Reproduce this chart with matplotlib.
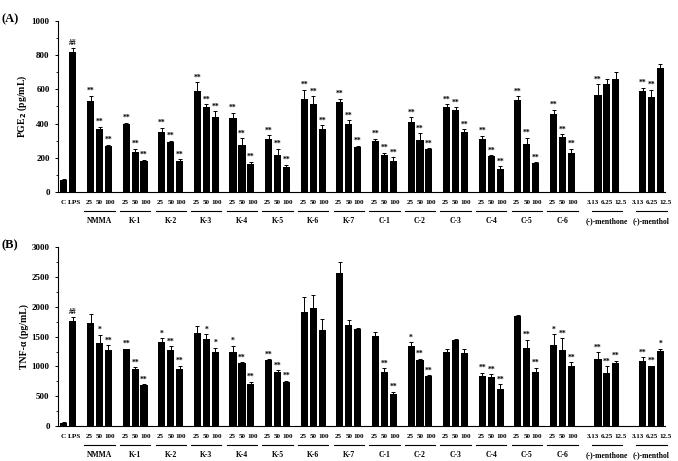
import numpy as np
import matplotlib
matplotlib.use('Agg')
import matplotlib.pyplot as plt
from matplotlib.ticker import MultipleLocator
from matplotlib.transforms import offset_copy

plt.rcParams['font.family'] = ['Liberation Serif', 'DejaVu Serif']
plt.rcParams['font.weight'] = 'bold'

# categories
groups = ['NMMA', 'K-1', 'K-2', 'K-3', 'K-4', 'K-5', 'K-6', 'K-7',
          'C-1', 'C-2', 'C-3', 'C-4', 'C-5', 'C-6', '(-)-menthone', '(-)-menthol']
doses = ['25', '50', '100']
doses_ref = ['3.13', '6.25', '12.5']
ctrl_labels = ['C', 'LPS']

# PGE2 (pg/mL)
pge_ctrl = [72, 816]
pge_ctrl_err = [5, 27]
pge_ctrl_sig = ['', '##']
pge = [[535, 369, 268], [398, 236, 180], [353, 295, 182], [590, 496, 437],
       [432, 277, 164], [309, 215, 148], [543, 512, 367], [529, 395, 264],
       [297, 219, 182], [412, 303, 250], [498, 477, 352], [307, 213, 135],
       [539, 283, 170], [459, 322, 230], [570, 633, 662], [590, 553, 727]]
pge_err = [[27, 12, 8], [8, 18, 8], [24, 6, 11], [53, 17, 34],
           [31, 37, 14], [23, 37, 12], [55, 47, 24], [16, 25, 7],
           [15, 11, 21], [24, 41, 6], [14, 19, 15], [21, 3, 15],
           [22, 35, 3], [23, 16, 22], [61, 25, 37], [19, 45, 21]]
pge_sig = [['**', '**', '**']] * 14 + [['**', '', ''], ['**', '**', '']]

# TNF-a (pg/mL)
tnf_ctrl = [56, 1768]
tnf_ctrl_err = [8, 67]
tnf_ctrl_sig = ['', '##']
tnf = [[1729, 1399, 1270], [1287, 951, 694], [1405, 1270, 957], [1567, 1460, 1237],
       [1242, 1052, 711], [1102, 912, 733], [1919, 1981, 1606], [2563, 1696, 1623],
       [1505, 912, 537], [1337, 1102, 845], [1242, 1444, 1226], [839, 817, 616],
       [1841, 1304, 906], [1354, 1270, 1013], [1119, 884, 1063], [1097, 1002, 1253]]
tnf_err = [[151, 134, 84], [12, 39, 8], [72, 73, 56], [106, 79, 78],
           [107, 22, 33], [17, 23, 28], [241, 218, 185], [190, 78, 28],
           [79, 56, 39], [68, 28, 10], [45, 17, 72], [56, 50, 84],
           [17, 145, 73], [185, 202, 61], [123, 123, 34], [56, 11, 45]]
tnf_sig = [['', '*', '**'], ['**', '**', '**'], ['*', '**', '**'], ['', '*', '*'],
           ['*', '**', '**'], ['**', '**', '**'], ['', '', ''], ['', '', ''],
           ['', '**', '**'], ['*', '**', '**'], ['', '', ''], ['**', '**', '**'],
           ['', '**', '**'], ['*', '**', '**'], ['**', '**', '**'], ['**', '**', '*']]

# slot where each group starts
starts = [3 + 4 * i for i in range(14)] + [60, 65]

fig = plt.figure(figsize=(6.78, 4.61), dpi=100)
ax_a = fig.add_axes([0.0855, 0.5835, 0.895, 0.371])
ax_b = fig.add_axes([0.0855, 0.0759, 0.895, 0.3877])


def draw_panel(ax, ctrl, ctrl_err, ctrl_sig, vals, errs, sigs, ymax, major, minor, ylabel, tag):
    xs = [0, 1]
    heights = list(ctrl)
    err = list(ctrl_err)
    marks = list(ctrl_sig)
    for i, s in enumerate(starts):
        for j in range(3):
            xs.append(s + j)
            heights.append(vals[i][j])
            err.append(errs[i][j])
            marks.append(sigs[i][j])
    xs = np.array(xs)
    heights = np.array(heights)
    err = np.array(err)

    ax.bar(xs, heights, width=0.8, color='black', zorder=2)
    ax.errorbar(xs, heights, yerr=[np.zeros(len(err)), err], fmt='none',
                ecolor='black', elinewidth=0.7, capsize=1.6, capthick=0.7, zorder=1)
    for x, h, e, m in zip(xs, heights, err, marks):
        if m:
            ax.annotate(m, (x, h + e), xytext=(0, 0.5), textcoords='offset points',
                        ha='center', va='bottom', fontsize=5.5, fontweight='bold')

    ax.set_xlim(-0.67, 67.5)
    ax.set_ylim(0, ymax)
    ax.yaxis.set_major_locator(MultipleLocator(major))
    ax.yaxis.set_minor_locator(MultipleLocator(minor))
    ax.set_xticks([])
    ax.tick_params(axis='y', which='major', labelsize=6.5, length=2.5, width=0.7, direction='out')
    ax.tick_params(axis='y', which='minor', length=1.5, width=0.6, direction='out')
    for lab in ax.get_yticklabels():
        lab.set_fontweight('bold')
    for sp in ['top', 'right']:
        ax.spines[sp].set_visible(False)
    for sp in ['left', 'bottom']:
        ax.spines[sp].set_linewidth(0.8)
    ax.set_ylabel(ylabel, fontsize=7, fontweight='bold', labelpad=2)

    base = ax.get_xaxis_transform()
    tr_dose = offset_copy(base, fig=fig, y=-10, units='dots')
    tr_line = offset_copy(base, fig=fig, y=-19, units='dots')
    tr_name = offset_copy(base, fig=fig, y=-29, units='dots')
    # dose labels sit a little wider apart than the bars, as in the source figure
    ax.text(-0.1, 0, ctrl_labels[0], transform=tr_dose, ha='center', va='center',
            fontsize=5.2, fontweight='bold')
    ax.text(1.2, 0, ctrl_labels[1], transform=tr_dose, ha='center', va='center',
            fontsize=5.2, fontweight='bold')
    for i, s in enumerate(starts):
        labs = doses_ref if i >= 14 else doses
        step = 1.55 if i >= 14 else 1.15
        for j, lab in enumerate(labs):
            ax.text(s + 1 + (j - 1) * step, 0, lab, transform=tr_dose, ha='center',
                    va='center', fontsize=5.0, fontweight='bold')
    for s, g in zip(starts, groups):
        ax.plot([s - 0.7, s + 2.7], [0, 0], transform=tr_line, color='black',
                lw=0.8, clip_on=False)
        ax.text(s + 1, 0, g, transform=tr_name, ha='center', va='center',
                fontsize=5.5, fontweight='bold')

    ax.text(-0.0855 / 0.895 + 0.003, 1.01, tag, transform=ax.transAxes,
            ha='left', va='center', fontsize=9, fontweight='bold')


draw_panel(ax_a, pge_ctrl, pge_ctrl_err, pge_ctrl_sig, pge, pge_err, pge_sig,
           1000, 200, 100, 'PGE$_\\mathbf{2}$ (pg/mL)', '(A)')
draw_panel(ax_b, tnf_ctrl, tnf_ctrl_err, tnf_ctrl_sig, tnf, tnf_err, tnf_sig,
           3000, 500, 250, 'TNF-α (pg/mL)', '(B)')

fig.savefig('out.png', dpi=100)
